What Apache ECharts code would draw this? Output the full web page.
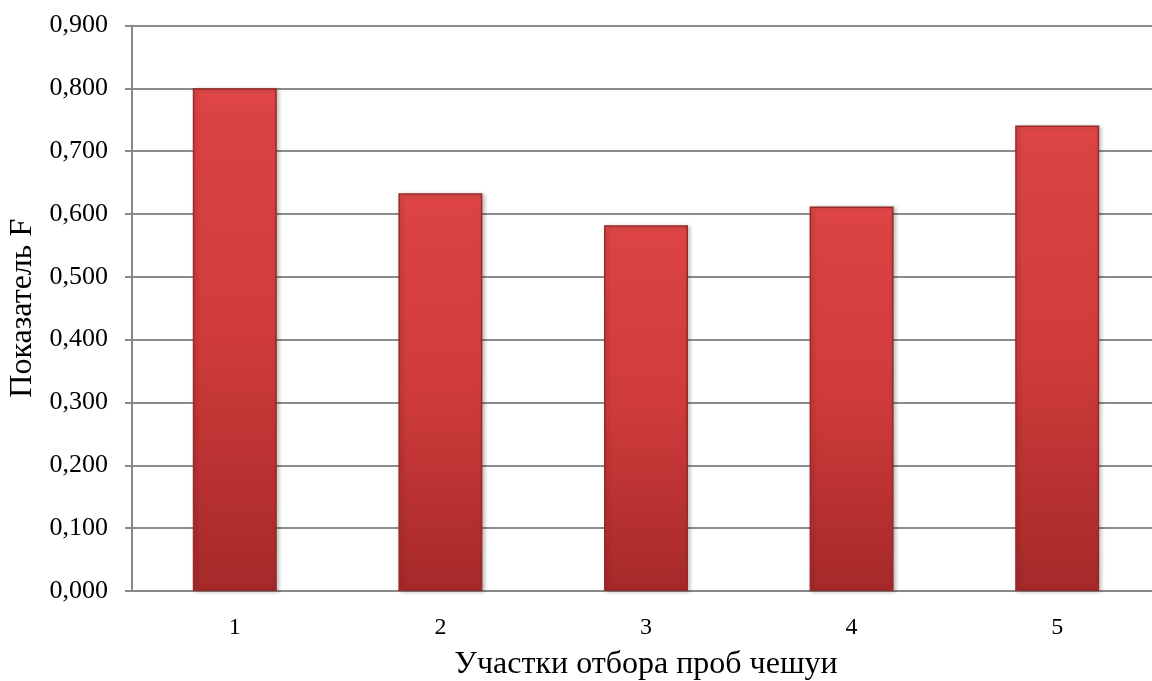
<!DOCTYPE html>
<html>
<head>
<meta charset="utf-8">
<style>
  html, body { margin: 0; padding: 0; background: #fff; }
  #chart { width: 1152px; height: 681px; }
</style>
<script src="https://cdn.jsdelivr.net/npm/echarts@6/dist/echarts.min.js"></script>
</head>
<body>
<div id="chart"></div>
<script>
  // data
  const categories = ['1', '2', '3', '4', '5']
  const values = [0.800, 0.633, 0.582, 0.612, 0.741]
  const yTicks = { min: 0, max: 0.9, step: 0.1 }

  const chart = echarts.init(document.getElementById('chart'))
  const font = '"Liberation Serif", "Times New Roman", serif'

  chart.setOption({
    animation: false,
    grid: {
      left: 132,
      right: -8,
      top: 25.5,
      bottom: 90,
      containLabel: false,
      outerBoundsMode: 'none'
    },
    xAxis: {
      type: 'category',
      data: categories,
      name: 'Участки отбора проб чешуи',
      nameLocation: 'middle',
      nameGap: 58,
      nameTextStyle: { fontFamily: font, fontSize: 32, color: '#000' },
      axisLine: { lineStyle: { color: '#888', width: 2 } },
      axisTick: { show: false },
      axisLabel: { fontFamily: font, fontSize: 24, color: '#000', margin: 25 }
    },
    yAxis: {
      type: 'value',
      min: yTicks.min,
      max: yTicks.max,
      interval: yTicks.step,
      name: 'Показатель F',
      nameLocation: 'middle',
      nameGap: 91,
      nameTextStyle: { fontFamily: font, fontSize: 32, color: '#000' },
      axisLine: { show: true, lineStyle: { color: '#888', width: 2 } },
      axisTick: { show: true, length: 7, lineStyle: { color: '#888', width: 2 } },
      axisLabel: {
        fontFamily: font,
        fontSize: 26,
        color: '#000',
        margin: 24,
        formatter: v => v.toFixed(3).replace('.', ',')
      },
      splitLine: { lineStyle: { color: '#8c8c8c', width: 2 } }
    },
    series: [
      {
        type: 'bar',
        data: values,
        barWidth: 84,
        itemStyle: {
          color: new echarts.graphic.LinearGradient(0, 0, 0, 1, [
            { offset: 0, color: '#e24848' },
            { offset: 0.04, color: '#dc4343' },
            { offset: 0.5, color: '#cf3b3b' },
            { offset: 1, color: '#a62929' }
          ]),
          borderColor: '#982a2a',
          borderWidth: 1.5,
          shadowColor: 'rgba(0,0,0,0.25)',
          shadowBlur: 4,
          shadowOffsetX: 2,
          shadowOffsetY: 1
        }
      }
    ]
  })
</script>
</body>
</html>
